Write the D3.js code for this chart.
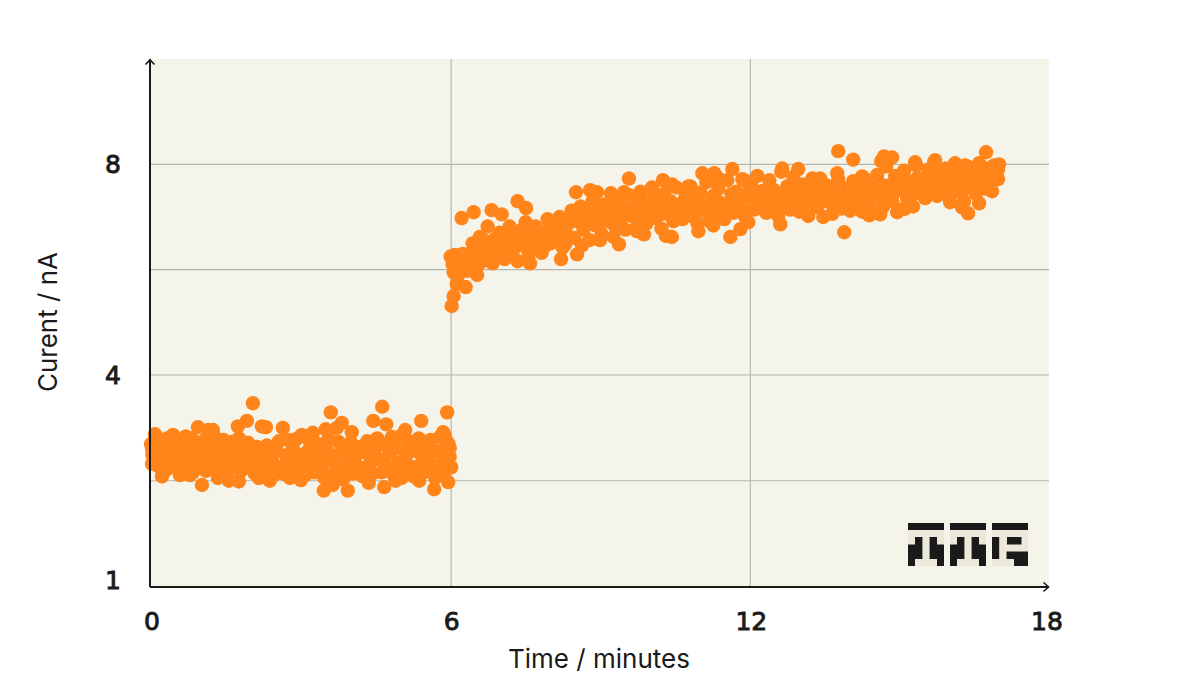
<!DOCTYPE html>
<html><head><meta charset="utf-8">
<script src="https://cdnjs.cloudflare.com/ajax/libs/d3/7.8.5/d3.min.js"></script>
<style>html,body{margin:0;padding:0;background:#fff}svg{display:block}</style>
</head><body><svg id="c" width="1200" height="700"></svg>
<script>
const xTicks = [0, 6, 12, 18];
const yTicks = [1, 4, 8];
const xGrid = [6.03, 12.02];
const yGrid = [2.5, 4, 6, 8];
const xTitle = "Time / minutes";
const yTitle = "Curent / nA";
// [minutes, nA]
const baseline = [
[2.06,3.60],[1.94,3.35],[1.76,3.27],[2.24,3.27],[2.32,3.26],[2.66,3.25],[3.62,3.47],[3.84,3.32],[3.74,3.25],[3.52,3.23],[4.04,3.19],[4.65,3.55],[4.47,3.35],[4.73,3.30],[5.43,3.35],[5.95,3.47],[0.96,3.26],[1.16,3.22],[1.26,3.22],[0.46,3.15],[0.10,3.16],[0.72,3.13],[3.26,3.18],[3.04,3.15],[5.11,3.22],[5.87,3.19],
[1.04,2.44],[0.24,2.56],[3.48,2.36],[3.96,2.36],[5.69,2.38],[5.97,2.48],[4.69,2.41],[3.66,2.44],[6.03,2.69],[1.36,2.54],[1.58,2.50],[1.78,2.49],[2.18,2.54],[2.40,2.50],[2.80,2.54],[3.02,2.51],[4.38,2.47],[4.92,2.50],[5.04,2.54],[5.39,2.50],[0.04,2.74],[0.60,2.58],[0.80,2.58],
[0.02,3.02],[0.04,2.95],[0.05,2.86],[0.08,3.06],[0.12,2.80],[0.15,2.92],[0.18,2.70],[0.21,3.01],[0.26,2.86],[0.30,2.64],[0.33,2.95],[0.37,2.78],[0.41,2.69],[0.45,3.05],[0.49,2.88],[0.52,2.74],[0.56,2.98],[0.61,2.66],[0.65,2.84],[0.69,3.08],[0.74,2.72],[0.78,2.93],[0.83,3.10],[0.86,2.62],[0.90,2.81],[0.94,3.02],[0.99,2.70],[1.03,2.90],[1.08,3.07],[1.12,2.64],[1.17,2.79],[1.21,2.97],[1.25,2.68],[1.30,3.12],[1.34,2.86],[1.38,2.62],[1.43,2.96],[1.47,3.08],[1.51,2.74],[1.55,2.58],[1.60,2.90],[1.64,3.05],[1.68,2.70],[1.73,2.84],[1.78,3.10],[1.82,2.64],[1.86,2.95],[1.90,2.78],[1.96,3.04],[2.00,2.68],[2.05,2.88],[2.10,2.60],[2.14,2.98],[2.20,2.74],[2.25,2.56],[2.29,2.90],[2.34,3.00],[2.39,2.68],[2.44,2.82],[2.48,2.58],[2.53,2.93],[2.58,3.06],[2.63,2.70],[2.68,2.60],[2.72,2.86],[2.77,3.08],[2.82,2.76],[2.86,2.96],[2.91,2.62],[2.95,3.10],[3.00,2.84],[3.06,2.68],[3.11,2.58],[3.16,2.92],[3.20,3.06],[3.25,2.76],[3.30,2.62],[3.34,2.88],[3.39,3.02],[3.44,2.70],[3.49,2.54],[3.54,2.94],[3.58,3.10],[3.63,2.78],[3.68,2.60],[3.72,2.86],[3.78,3.05],[3.82,2.68],[3.87,2.52],[3.91,2.92],[3.97,2.76],[4.02,3.04],[4.06,2.60],[4.11,2.84],[4.16,2.98],[4.21,2.68],[4.26,2.56],[4.31,2.90],[4.35,3.06],[4.40,2.74],[4.45,2.60],[4.50,2.94],[4.55,3.10],[4.59,2.80],[4.64,2.62],[4.69,3.02],[4.74,2.70],[4.79,2.88],[4.84,3.12],[4.88,2.58],[4.93,2.96],[4.98,2.76],[5.03,3.14],[5.08,2.64],[5.13,2.86],[5.18,3.06],[5.23,2.70],[5.28,2.56],[5.33,2.92],[5.38,3.10],[5.43,2.74],[5.48,2.62],[5.52,2.98],[5.57,2.80],[5.62,3.08],[5.66,2.68],[5.71,2.54],[5.75,2.92],[5.80,3.12],[5.84,2.76],[5.88,2.60],[5.92,2.88],[5.94,3.06],[5.98,3.02],[6.00,2.96],[5.96,2.72],[5.90,3.14],[6.00,2.84],
[0.10,2.74],[0.34,3.10],[0.70,2.90],[1.10,2.84],[1.40,2.76],[1.70,2.94],[2.12,2.80],[2.46,2.96],[2.74,2.70],[3.10,2.88],[3.42,2.82],[3.76,2.72],[4.10,2.70],[4.42,2.92],[4.76,2.98],[5.10,2.94],[5.44,2.86],[5.78,2.66]
];
const response = [
[6.24,6.98],[6.48,7.09],[6.84,7.13],[7.04,7.05],[7.36,7.30],[7.53,7.17],[8.53,7.47],[8.81,7.51],[8.95,7.47],[9.23,7.45],[9.59,7.73],[9.49,7.47],[10.05,7.56],[10.27,7.70],[10.45,7.62],[10.82,7.58],[11.06,7.83],[11.30,7.83],[11.38,7.73],[11.66,7.91],[11.94,7.68],[12.66,7.92],[12.98,7.91],[13.78,8.25],[14.08,8.09],[13.76,7.83],[14.70,8.15],[14.86,8.13],[14.64,8.06],[15.32,8.04],[15.72,8.08],[16.74,8.23],[16.94,7.94],[16.32,7.98],[13.26,7.73],[13.42,7.73],[14.26,7.77],[15.88,7.87],
[6.04,5.31],[6.08,5.50],[6.14,5.73],[6.32,5.67],[6.55,5.90],[7.61,6.12],[8.23,6.20],[8.55,6.29],[8.65,6.46],[8.31,6.48],[9.39,6.48],[9.01,6.56],[9.75,6.73],[9.89,6.67],[10.33,6.64],[10.45,6.62],[10.98,6.73],[11.62,6.62],[11.82,6.77],[11.98,6.90],[11.28,6.84],[12.62,6.86],[13.90,6.71],[14.40,7.03],[14.62,7.05],[14.96,7.09],[16.38,7.07],[16.60,7.26],[16.86,7.49],[15.10,7.15],[16.02,7.28],[16.26,7.18],
[6.02,6.25],[6.06,6.10],[6.08,5.95],[6.10,6.28],[6.12,6.05],[6.16,5.88],[6.20,6.18],[6.24,5.96],[6.26,6.30],[6.30,6.12],[6.36,5.98],[6.40,6.30],[6.44,6.08],[6.46,6.50],[6.50,6.22],[6.54,6.40],[6.58,6.10],[6.62,6.32],[6.68,6.56],[6.72,6.18],[6.76,6.82],[6.80,6.36],[6.86,6.12],[6.90,6.58],[6.94,6.28],[7.00,6.70],[7.06,6.42],[7.10,6.20],[7.16,6.62],[7.20,6.82],[7.26,6.34],[7.30,6.54],[7.36,6.16],[7.42,6.74],[7.46,6.46],[7.52,6.90],[7.58,6.28],[7.62,6.60],[7.68,6.40],[7.72,6.82],[7.78,6.52],[7.84,6.32],[7.90,6.70],[7.96,6.96],[8.02,6.50],[8.08,6.78],[8.14,6.60],[8.20,7.00],[8.26,6.42],[8.32,6.72],[8.38,6.88],[8.44,7.12],[8.50,6.60],[8.56,6.92],[8.62,7.20],[8.68,6.76],[8.74,7.02],[8.80,6.56],[8.86,7.30],[8.92,6.84],[8.98,7.08],[9.04,6.68],[9.10,7.24],[9.16,6.92],[9.22,7.12],[9.28,6.62],[9.34,7.36],[9.40,6.94],[9.46,7.18],[9.52,6.76],[9.58,7.42],[9.64,7.02],[9.70,7.26],[9.76,6.82],[9.82,7.48],[9.88,7.08],[9.94,6.88],[10.00,7.30],[10.06,7.54],[10.12,6.98],[10.18,7.18],[10.24,6.78],[10.30,7.44],[10.36,7.06],[10.42,7.30],[10.48,6.92],[10.54,7.56],[10.60,7.14],[10.66,6.96],[10.72,7.38],[10.78,7.58],[10.84,7.02],[10.90,7.24],[10.96,6.88],[11.02,7.46],[11.08,7.12],[11.14,7.66],[11.20,6.92],[11.26,7.32],[11.32,7.04],[11.38,7.54],[11.44,7.18],[11.50,6.96],[11.56,7.70],[11.62,7.28],[11.68,7.08],[11.74,7.48],[11.80,7.22],[11.86,7.72],[11.92,7.00],[11.98,7.40],[12.04,7.60],[12.10,7.14],[12.16,7.78],[12.22,7.30],[12.28,7.50],[12.34,7.08],[12.40,7.70],[12.46,7.22],[12.52,7.42],[12.58,7.02],[12.64,7.86],[12.70,7.32],[12.76,7.58],[12.82,7.14],[12.88,7.76],[12.94,7.40],[13.00,7.10],[13.06,7.62],[13.12,7.26],[13.18,7.02],[13.24,7.48],[13.30,7.72],[13.36,7.18],[13.42,7.38],[13.48,7.00],[13.54,7.60],[13.60,7.28],[13.66,7.06],[13.72,7.46],[13.78,7.72],[13.84,7.16],[13.90,7.36],[13.96,7.54],[14.02,7.12],[14.08,7.68],[14.14,7.28],[14.20,7.48],[14.26,7.10],[14.32,7.72],[14.38,7.34],[14.44,7.56],[14.50,7.08],[14.56,7.80],[14.62,7.42],[14.68,7.20],[14.74,7.96],[14.80,7.60],[14.86,7.30],[14.92,7.78],[14.98,7.14],[15.04,7.52],[15.10,7.88],[15.16,7.34],[15.22,7.66],[15.28,7.20],[15.34,7.98],[15.40,7.50],[15.46,7.72],[15.52,7.36],[15.58,7.90],[15.64,7.58],[15.70,8.04],[15.76,7.40],[15.82,7.76],[15.88,7.54],[15.94,7.92],[16.00,7.38],[16.06,7.68],[16.12,8.02],[16.18,7.48],[16.24,7.82],[16.30,7.30],[16.36,7.96],[16.42,7.62],[16.48,7.86],[16.54,7.44],[16.60,8.02],[16.66,7.72],[16.72,7.54],[16.78,7.92],[16.84,7.76],[16.90,7.98],[16.94,7.84],[16.98,7.72],[17.00,8.00],[16.98,7.90],
[6.60,6.62],[7.02,6.30],[7.48,6.68],[7.90,6.44],[8.30,6.58],[8.90,6.98],[9.30,6.84],[9.70,7.14],[10.10,7.36],[10.50,7.24],[10.90,7.12],[11.30,7.28],[11.70,7.36],[12.10,7.42],[12.50,7.30],[12.90,7.24],[13.30,7.32],[13.70,7.24],[14.10,7.42],[14.50,7.38],[14.90,7.46],[15.30,7.44],[15.70,7.62],[16.10,7.58],[16.50,7.70],
[6.52,6.48],[6.70,6.44],[6.96,6.46],[7.12,6.64],[7.34,6.68],[7.56,6.58],[7.74,6.70],[7.98,6.76],[8.10,6.90],[8.28,6.84],[8.42,6.96],[8.58,7.06],[8.72,6.88],[8.88,7.12],[9.02,6.94],[9.12,7.06],[9.26,7.24],[9.38,7.08],[9.50,7.02],[9.62,7.16],[9.74,7.00],[9.86,7.26],[9.98,7.08],[10.08,7.20],[10.20,7.04],[10.32,7.24],[10.44,7.12],[10.56,7.02],[10.68,7.28],[10.80,7.16],[10.92,7.36],[11.04,7.24],[11.16,7.10],[11.28,7.40],[11.40,7.28],[11.52,7.14],[11.64,7.44],[11.76,7.32],[11.88,7.18],[12.00,7.50],[12.12,7.34],[12.24,7.20],[12.36,7.44],[12.48,7.52],[12.60,7.24],[12.72,7.46],[12.84,7.36],[12.96,7.54],[13.08,7.30],[13.20,7.44],[13.32,7.20],[13.44,7.52],[13.56,7.38],[13.68,7.56],[13.80,7.28],[13.92,7.44],[14.04,7.30],[14.16,7.56],[14.28,7.38],[14.40,7.22],[14.52,7.50],[14.64,7.62],[14.76,7.36],[14.88,7.54],[15.00,7.70],[15.12,7.46],[15.24,7.54],[15.36,7.74],[15.48,7.58],[15.60,7.42],[15.72,7.80],[15.84,7.66],[15.96,7.50],[16.08,7.82],[16.20,7.66],[16.32,7.54],[16.44,7.76],[16.56,7.60],[16.68,7.88],[16.80,7.66]
];

const xScale = d3.scaleLinear().domain([0, 18]).range([150, 1049]);
const yScale = d3.scaleLinear().domain([1, 4, 10]).range([586.5, 375, 59]);
const svg = d3.select("#c");
const INK = "#1a1a1a", GRID = "#b6b6ad", PANEL = "#f5f4eb", DOT = "#ff851b";
const TICK = "'DejaVu Sans', sans-serif", SANS = "Inter, sans-serif";

svg.append("rect").attr("x", 150).attr("y", 59).attr("width", 899).attr("height", 528).attr("fill", PANEL);

svg.append("g").selectAll("line").data(xGrid).join("line")
  .attr("x1", d => xScale(d)).attr("x2", d => xScale(d)).attr("y1", 59).attr("y2", 587)
  .attr("stroke", GRID).attr("stroke-width", 1.2);
svg.append("g").selectAll("line").data(yGrid).join("line")
  .attr("x1", 150).attr("x2", 1049).attr("y1", d => yScale(d)).attr("y2", d => yScale(d))
  .attr("stroke", GRID).attr("stroke-width", 1.2);

// logo
const logoBack = svg.append("g").attr("fill", "#ece9da");
const logo = svg.append("g").attr("fill", INK);
[908, 950, 992].forEach(x0 => {
  logoBack.append("rect").attr("x", x0).attr("y", 530).attr("width", 36).attr("height", 36);
  logo.append("rect").attr("x", x0).attr("y", 523).attr("width", 36).attr("height", 7);
});
[908, 950].forEach(x0 => {
  logo.append("path").attr("d", `M${x0} 566V544.5H${x0+7}V537H${x0+14.4}V559H${x0+7}V566Z`);
  logo.append("path").attr("d", `M${x0+36} 566V544.5H${x0+29}V537H${x0+21.6}V559H${x0+29}V566Z`);
});
logo.append("rect").attr("x", 992).attr("y", 537).attr("width", 7.2).attr("height", 22);
logo.append("rect").attr("x", 1007).attr("y", 537).attr("width", 14.5).attr("height", 7.5);
logo.append("path").attr("d", "M1006.5 551.5H1028V566H1014V559H1006.5Z");

// points
svg.append("g").selectAll("circle").data(baseline.concat(response)).join("circle")
  .attr("cx", d => xScale(d[0])).attr("cy", d => yScale(d[1])).attr("r", 7.2).attr("fill", DOT);

// axes
const axes = svg.append("g").attr("stroke", INK).attr("stroke-width", 2).attr("fill", "none");
axes.append("path").attr("d", "M150 587V59");
axes.append("path").attr("d", "M150 587H1049");
axes.append("path").attr("stroke-width", 1.6).attr("d", "M145.5 64.5L150 60L154.5 64.5");
axes.append("path").attr("stroke-width", 1.6).attr("d", "M1043.5 582.5L1048.5 587L1043.5 591.5");

// tick labels
const styleTick = s => s.attr("font-family", TICK).attr("font-size", 25).attr("fill", INK)
  .attr("stroke", INK).attr("stroke-width", 0.9);
svg.append("g").selectAll("text").data(xTicks).join("text")
  .attr("x", d => xScale(d) + (d === 0 ? 2 : d === 18 ? -2 : 2)).attr("y", 630).attr("text-anchor", "middle")
  .call(styleTick).text(d => d);
svg.append("g").selectAll("text").data(yTicks).join("text")
  .attr("x", 121).attr("y", d => d === 1 ? 589 : yScale(d) + 9).attr("text-anchor", "end")
  .call(styleTick).text(d => d);

// titles
svg.append("text").attr("x", 599).attr("y", 668).attr("text-anchor", "middle")
  .attr("font-family", SANS).attr("font-size", 26).attr("fill", INK).text(xTitle);
svg.append("text").attr("transform", "translate(57,322) rotate(-90)").attr("text-anchor", "middle")
  .attr("font-family", SANS).attr("font-size", 26).attr("fill", INK).text(yTitle);
</script></body></html>
